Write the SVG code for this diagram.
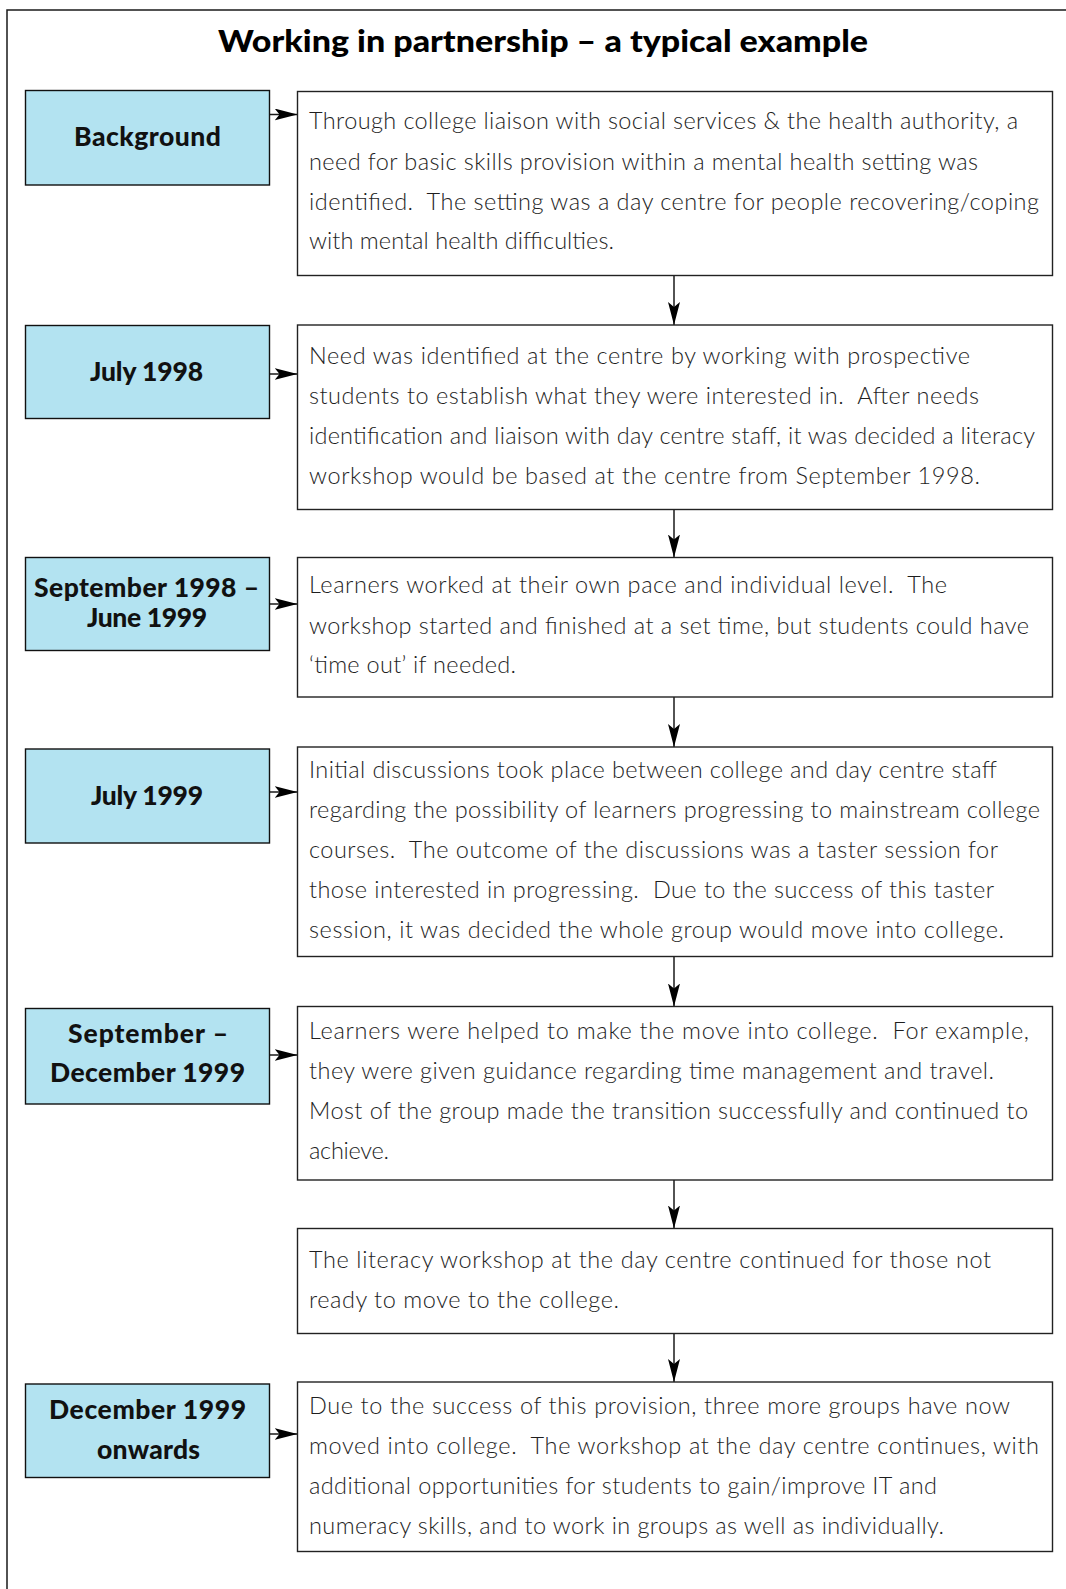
<svg xmlns="http://www.w3.org/2000/svg" width="1066" height="1589" viewBox="0 0 1066 1589">
  <style>
    .frame { fill: none; stroke: #1a1a1a; stroke-width: 1.5; }
    .date { fill: #b3e3f1; stroke: #111; stroke-width: 1.4; }
    .note { fill: #fff; stroke: #222; stroke-width: 1.4; }
    .title { font-family: Lato, "Liberation Sans", sans-serif; font-weight: 900; font-size: 31px; fill: #000; }
    .label { font-family: Lato, "Liberation Sans", sans-serif; font-weight: 900; font-size: 26.5px; fill: #111; text-anchor: middle; }
    .body { font-family: Lato, "Liberation Sans", sans-serif; font-weight: 300; font-size: 23.5px; fill: #1e1e1e; white-space: pre; }
    .link { fill: none; stroke: #1a1a1a; stroke-width: 1.5; }
  </style>
  <defs>
    <marker id="head" markerUnits="userSpaceOnUse" markerWidth="23" markerHeight="12" refX="23" refY="6" orient="auto" viewBox="0 0 23 12">
      <path d="M0,0 L23,6 L0,12 L5,6 Z" fill="#000"/>
    </marker>
  </defs>

  <rect width="1066" height="1589" fill="#fff"/>
  <path class="frame" d="M7,1589 V10 H1066"/>

  <text class="title" x="218" y="52" textLength="650" lengthAdjust="spacingAndGlyphs">Working in partnership – a typical example</text>

  <!-- connectors -->
  <g id="connectors">
    <path class="link" d="M269.5,114.5 H297.5" marker-end="url(#head)"/>
    <path class="link" d="M269.5,374 H297.5" marker-end="url(#head)"/>
    <path class="link" d="M269.5,604 H297.5" marker-end="url(#head)"/>
    <path class="link" d="M269.5,792 H297.5" marker-end="url(#head)"/>
    <path class="link" d="M269.5,1055 H297.5" marker-end="url(#head)"/>
    <path class="link" d="M269.5,1434 H297.5" marker-end="url(#head)"/>
    <path class="link" d="M674,275.5 V325" marker-end="url(#head)"/>
    <path class="link" d="M674,509.5 V557.5" marker-end="url(#head)"/>
    <path class="link" d="M674,697 V747" marker-end="url(#head)"/>
    <path class="link" d="M674,956.5 V1006.5" marker-end="url(#head)"/>
    <path class="link" d="M674,1180 V1228.5" marker-end="url(#head)"/>
    <path class="link" d="M674,1333.5 V1382" marker-end="url(#head)"/>
  </g>

  <!-- date labels -->
  <g id="date-background">
    <rect class="date" x="25.5" y="90.5" width="244" height="94.5"/>
    <text class="label" x="147.5" y="145.5" textLength="147">Background</text>
  </g>
  <g id="date-july-1998">
    <rect class="date" x="25.5" y="325.5" width="244" height="93"/>
    <text class="label" x="146.5" y="380.5" textLength="113">July 1998</text>
  </g>
  <g id="date-sep-1998">
    <rect class="date" x="25.5" y="557.5" width="244" height="93"/>
    <text class="label" x="146.5" y="596.5" textLength="225">September 1998 –</text>
    <text class="label" x="147" y="626.5" textLength="120">June 1999</text>
  </g>
  <g id="date-july-1999">
    <rect class="date" x="25.5" y="749" width="244" height="94"/>
    <text class="label" x="147" y="804.5" textLength="112">July 1999</text>
  </g>
  <g id="date-sep-dec-1999">
    <rect class="date" x="25.5" y="1008.5" width="244" height="95.5"/>
    <text class="label" x="148" y="1043" textLength="160">September –</text>
    <text class="label" x="147.5" y="1082" textLength="195">December 1999</text>
  </g>
  <g id="date-dec-1999">
    <rect class="date" x="25.5" y="1384" width="244" height="93.5"/>
    <text class="label" x="147.5" y="1418.5" textLength="197">December 1999</text>
    <text class="label" x="148.5" y="1458.5" textLength="103">onwards</text>
  </g>

  <!-- descriptions -->
  <g id="note-background">
    <rect class="note" x="297.5" y="91.5" width="755" height="184"/>
    <text class="body" x="309" y="129" textLength="709">Through college liaison with social services &amp; the health authority, a</text>
    <text class="body" x="309" y="169.5" textLength="669">need for basic skills provision within a mental health setting was</text>
    <text class="body" x="309" y="209.5" textLength="730">identified.  The setting was a day centre for people recovering/coping</text>
    <text class="body" x="309" y="249" textLength="305">with mental health difficulties.</text>
  </g>
  <g id="note-july-1998">
    <rect class="note" x="297.5" y="325" width="755" height="184.5"/>
    <text class="body" x="309" y="364" textLength="661">Need was identified at the centre by working with prospective</text>
    <text class="body" x="309" y="404" textLength="670">students to establish what they were interested in.  After needs</text>
    <text class="body" x="309" y="444" textLength="726">identification and liaison with day centre staff, it was decided a literacy</text>
    <text class="body" x="309" y="484" textLength="671">workshop would be based at the centre from September 1998.</text>
  </g>
  <g id="note-sep-1998">
    <rect class="note" x="297.5" y="557.5" width="755" height="139.5"/>
    <text class="body" x="309" y="593" textLength="638">Learners worked at their own pace and individual level.  The</text>
    <text class="body" x="309" y="633.5" textLength="720">workshop started and finished at a set time, but students could have</text>
    <text class="body" x="309" y="673" textLength="207">‘time out’ if needed.</text>
  </g>
  <g id="note-july-1999">
    <rect class="note" x="297.5" y="747" width="755" height="209.5"/>
    <text class="body" x="309" y="777.5" textLength="688">Initial discussions took place between college and day centre staff</text>
    <text class="body" x="309" y="818" textLength="731">regarding the possibility of learners progressing to mainstream college</text>
    <text class="body" x="309" y="857.5" textLength="689">courses.  The outcome of the discussions was a taster session for</text>
    <text class="body" x="309" y="898" textLength="685">those interested in progressing.  Due to the success of this taster</text>
    <text class="body" x="309" y="937.5" textLength="695">session, it was decided the whole group would move into college.</text>
  </g>
  <g id="note-sep-dec-1999">
    <rect class="note" x="297.5" y="1006.5" width="755" height="173.5"/>
    <text class="body" x="309" y="1039" textLength="720">Learners were helped to make the move into college.  For example,</text>
    <text class="body" x="309" y="1078.5" textLength="685">they were given guidance regarding time management and travel.</text>
    <text class="body" x="309" y="1119" textLength="719">Most of the group made the transition successfully and continued to</text>
    <text class="body" x="309" y="1158.5" textLength="80">achieve.</text>
  </g>
  <g id="note-day-centre">
    <rect class="note" x="297.5" y="1228.5" width="755" height="105"/>
    <text class="body" x="309" y="1267.5" textLength="682">The literacy workshop at the day centre continued for those not</text>
    <text class="body" x="309" y="1307.5" textLength="310">ready to move to the college.</text>
  </g>
  <g id="note-dec-1999">
    <rect class="note" x="297.5" y="1382" width="755" height="169.5"/>
    <text class="body" x="309" y="1414" textLength="701">Due to the success of this provision, three more groups have now</text>
    <text class="body" x="309" y="1453.5" textLength="730">moved into college.  The workshop at the day centre continues, with</text>
    <text class="body" x="309" y="1494" textLength="628">additional opportunities for students to gain/improve IT and</text>
    <text class="body" x="309" y="1533.5" textLength="635">numeracy skills, and to work in groups as well as individually.</text>
  </g>
</svg>
